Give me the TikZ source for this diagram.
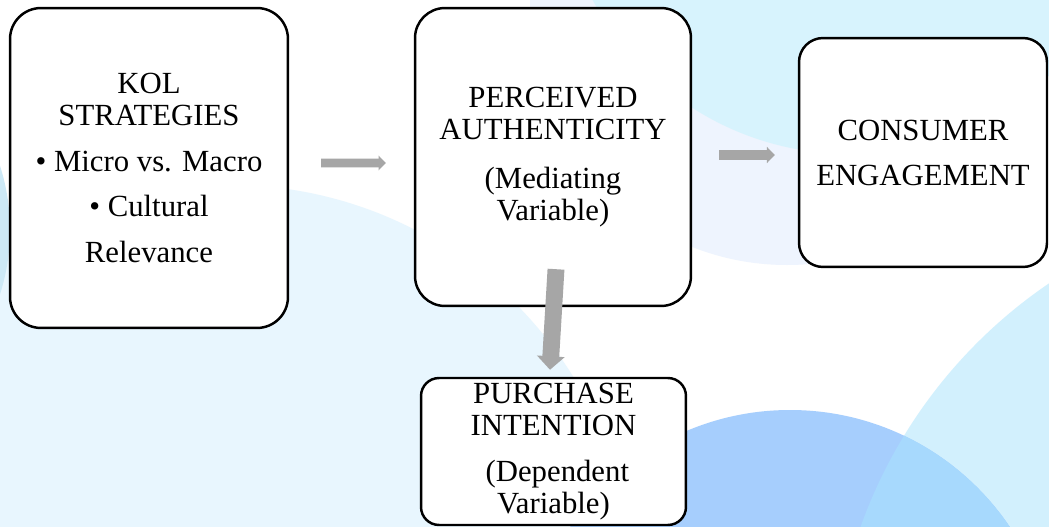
\documentclass[tikz,border=0pt]{standalone}
\usepackage{fontspec}
\setmainfont{Liberation Serif}
\usetikzlibrary{arrows.meta,positioning}
\definecolor{arrowgray}{HTML}{A6A6A6}
\definecolor{blobblue}{HTML}{E8F6FE}
\definecolor{lavend}{HTML}{EEF4FE}
\definecolor{topcyan}{HTML}{D7F3FD}
\definecolor{stripblue}{HTML}{CDE9F6}
\definecolor{rightcyan}{HTML}{D2F0FD}
\definecolor{bigblue}{HTML}{A6CEFD}
\definecolor{mixblue}{HTML}{A7D9FD}
\tikzset{
     varbox/.style = {draw=black, fill=white, line width=1.4pt, align=center,
                      inner sep=0pt, font=\fontsize{17.5}{18.2}\selectfont},
     flow/.style   = {draw=arrowgray, -{Triangle[width=0pt 1.6, length=0pt 0.8]}},
    }

\begin{document}
\begin{tikzpicture}[x=0.02cm, y=-0.02cm]
        \useasboundingbox (0,0) rectangle (1049,527);
        \begin{scope}
        \clip (0,0) rectangle (1049,527);
        \fill[white] (0,0) rectangle (1049,527);
        \fill[lavend] (787,8) circle (257);
        \fill[topcyan] (850,-138) circle (292);
        \fill[blobblue] (230,588) circle (403);
        \fill[stripblue] (-200,230) circle (210);
        \fill[rightcyan] (1327,693) circle (495);
        \fill[bigblue] (790,675) circle (265);
        \begin{scope}
        \clip (1327,693) circle (495);
        \fill[mixblue] (790,675) circle (265);
        \end{scope}
        \end{scope}

        \node [varbox, minimum width=5.56cm, minimum height=6.4cm, rounded corners=0.62cm]
              (kol) at (149,168)
              {KOL\\STRATEGIES\\[7.8pt]• Micro vs. Macro\\[7.8pt]• Cultural\\[7.8pt]Relevance};
        \node [varbox, minimum width=5.52cm, minimum height=5.96cm, rounded corners=0.6cm]
              (auth) at (553,157)
              {PERCEIVED\\AUTHENTICITY\\[9.6pt](Mediating\\Variable)};
        \node [varbox, minimum width=4.96cm, minimum height=4.58cm, rounded corners=0.48cm]
              (engage) at (923,152.5)
              {CONSUMER\\[7.4pt]ENGAGEMENT};
        \node [varbox, minimum width=5.3cm, minimum height=2.94cm, rounded corners=0.36cm]
              (purch) at (553.5,451.5)
              {PURCHASE\\INTENTION\\[8pt]\ (Dependent\\Variable)};

        \draw[flow, line width=5.1pt, shorten <=0.64cm, shorten >=0.56cm]
              ([yshift=0.1cm]kol.east) -- ([yshift=-0.12cm]auth.west);
        \draw[flow, line width=5.6pt, shorten <=0.54cm, shorten >=0.46cm]
              ([yshift=0.04cm]auth.east) -- ([yshift=-0.05cm]engage.west);
        \draw[flow, line width=9.6pt]
              ([shift={(0.06cm,0.76cm)}]auth.south) -- ([shift={(-0.07cm,0.14cm)}]purch.north);
    \end{tikzpicture}
\end{document}
